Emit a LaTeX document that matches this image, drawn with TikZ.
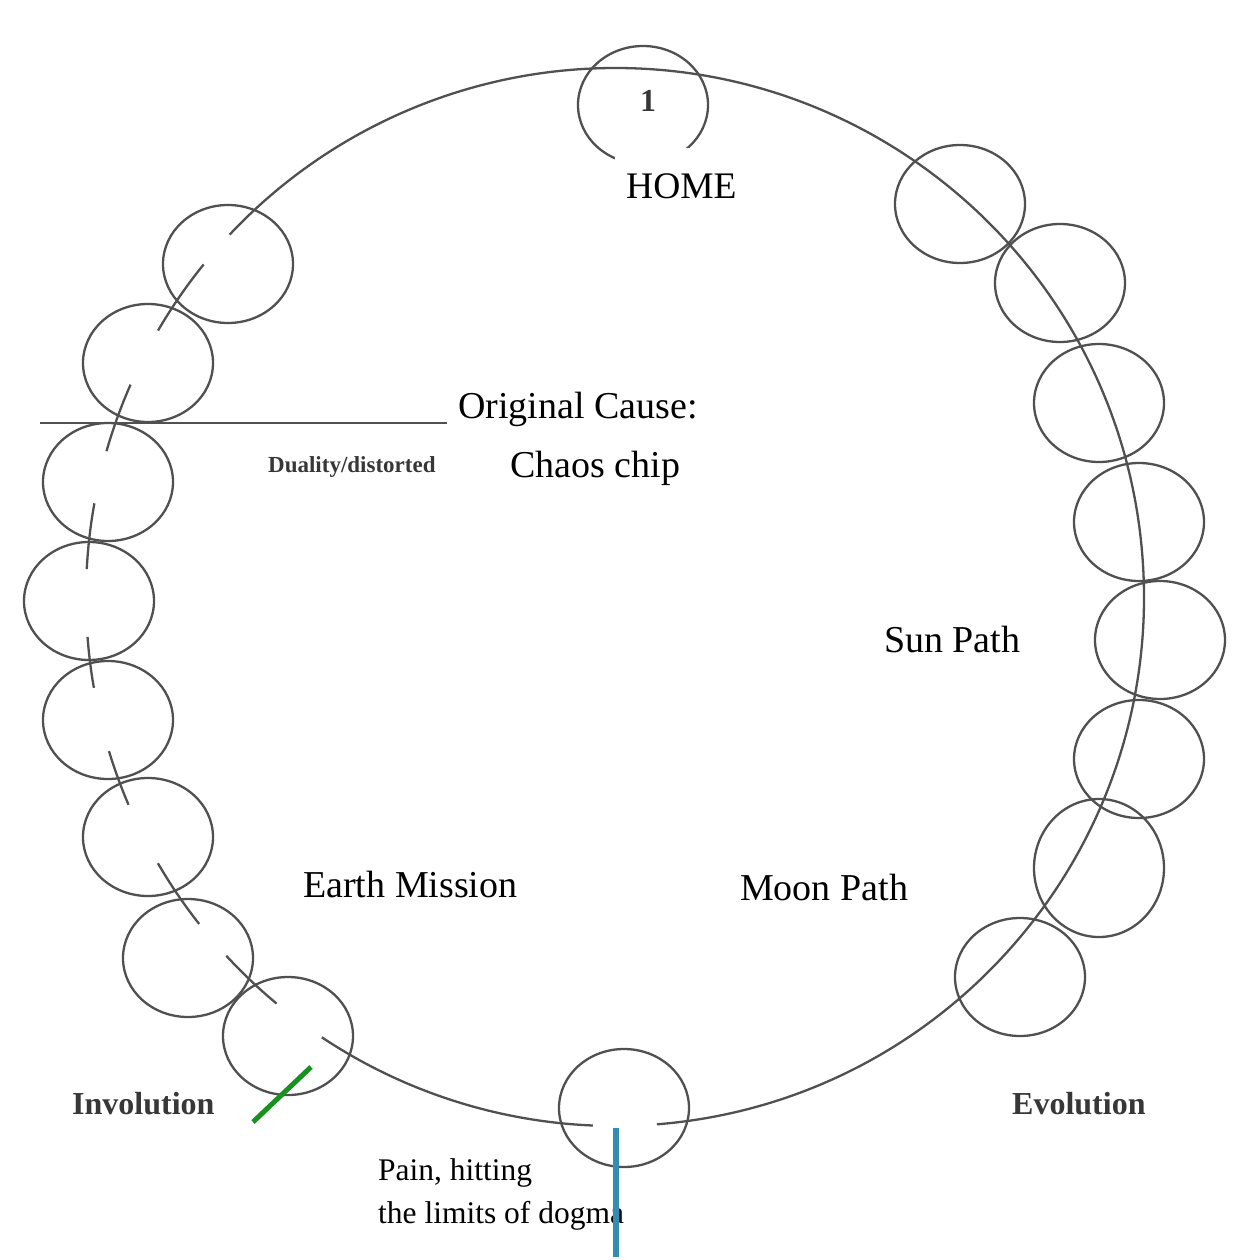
\documentclass[tikz,border=0pt]{standalone}
\usepackage{fontspec}
\setmainfont{Liberation Serif}
\usetikzlibrary{shapes.geometric,calc}
\definecolor{ink}{RGB}{80,80,80}
\definecolor{scan}{RGB}{55,55,55}
\definecolor{mygreen}{RGB}{25,145,30}
\definecolor{myblue}{RGB}{50,140,180}
\tikzset{
  bigline/.style={draw=ink, line width=2.3pt},
  smallc/.style={ellipse, draw=ink, line width=2.3pt, minimum width=130pt, minimum height=118pt, inner sep=0pt},
  labelbig/.style={anchor=base west, inner sep=0pt, font=\fontsize{38}{40}\selectfont},
  labelpain/.style={anchor=base west, inner sep=0pt, font=\fontsize{31.5}{34}\selectfont},
  labelscan/.style={anchor=base west, inner sep=0pt, text=scan, font=\fontsize{32}{34}\selectfont\bfseries},
}
\begin{document}
\begin{tikzpicture}[x=1pt,y=1pt]
\useasboundingbox (0,0) rectangle (1232,-1260);
\fill[white] (0,0) rectangle (1232,-1260);
% big circle centre
\coordinate (O) at (615,-597);
% visible arcs of the big circle
\draw[bigline] ($(O)+(-85.45:529)$) arc[start angle=-85.45, end angle=136.75, radius=529];
\draw[bigline] ($(O)+(141.05:529)$) arc[start angle=141.05, end angle=149.76, radius=529];
\draw[bigline] ($(O)+(156.33:529)$) arc[start angle=156.33, end angle=164.0, radius=529];
\draw[bigline] ($(O)+(169.8:529)$) arc[start angle=169.8, end angle=176.97, radius=529];
\draw[bigline] ($(O)+(184.32:529)$) arc[start angle=184.32, end angle=189.89, radius=529];
\draw[bigline] ($(O)+(196.94:529)$) arc[start angle=196.94, end angle=203.13, radius=529];
\draw[bigline] ($(O)+(210.22:529)$) arc[start angle=210.22, end angle=218.18, radius=529];
\draw[bigline] ($(O)+(222.71:529)$) arc[start angle=222.71, end angle=230.22, radius=529];
\draw[bigline] ($(O)+(236.34:529)$) arc[start angle=236.34, end angle=267.6, radius=529];
% small circles
\node[smallc] (c1) at (643,-105) {};
\node[smallc] (c2) at (960,-204) {};
\node[smallc] (c3) at (1060,-283) {};
\node[smallc] (c4) at (1099,-403) {};
\node[smallc] (c5) at (1139,-522) {};
\node[smallc] (c6) at (1160,-640) {};
\node[smallc] (c7) at (1139,-759) {};
\node[smallc, minimum height=138pt] (c8) at (1099,-868) {};
\node[smallc] (c9) at (1020,-977) {};
\node[smallc] (c10) at (624,-1108) {};
\node[smallc] (c11) at (288,-1036) {};
\node[smallc] (c12) at (188,-958) {};
\node[smallc] (c13) at (148,-837) {};
\node[smallc] (c14) at (108,-720) {};
\node[smallc] (c15) at (89,-601) {};
\node[smallc] (c16) at (108,-482) {};
\node[smallc] (c17) at (148,-363) {};
\node[smallc] (c18) at (228,-264) {};
% white patch under HOME
\fill[white] (615,-148) rectangle (760,-225);
% horizontal line
\coordinate (hl) at (40,-423);
\coordinate (hr) at (447,-423);
\draw[draw=ink, line width=2.8pt] (hl) -- (hr);
% labels
\node[anchor=center, inner sep=0pt, text=scan, font=\fontsize{32}{34}\selectfont\bfseries] (one) at (648,-101) {1};
\node[labelbig, font=\fontsize{37.5}{40}\selectfont] (home) at (626,-199) {HOME};
\node[labelbig] (cause) at (458,-418) {Original Cause:};
\node[labelbig] (chaos) at (510,-477) {Chaos chip};
\node[anchor=base west, inner sep=0pt, text=scan, font=\fontsize{23}{25}\selectfont\bfseries] (duality) at (268,-472) {Duality/distorted};
\node[labelbig] (sun) at (884,-652) {Sun Path};
\node[labelbig] (moon) at (740,-900) {Moon Path};
\node[labelbig] (earth) at (303,-897) {Earth Mission};
\node[labelscan] (invol) at (72,-1114) {Involution};
\node[labelscan] (evol) at (1012,-1114) {Evolution};
\node[labelpain] (pain1) at (378,-1180) {Pain, hitting};
\node[labelpain] (pain2) at (378,-1223) {the limits of dogma};
% coloured markers
\coordinate (g1) at (253,-1122);
\coordinate (g2) at (311,-1067);
\draw[mygreen, line width=5pt] (g1) -- (g2);
\coordinate (b1) at (616,-1128);
\coordinate (b2) at (616,-1257);
\draw[myblue, line width=6.5pt] (b1) -- (b2);
\end{tikzpicture}
\end{document}
